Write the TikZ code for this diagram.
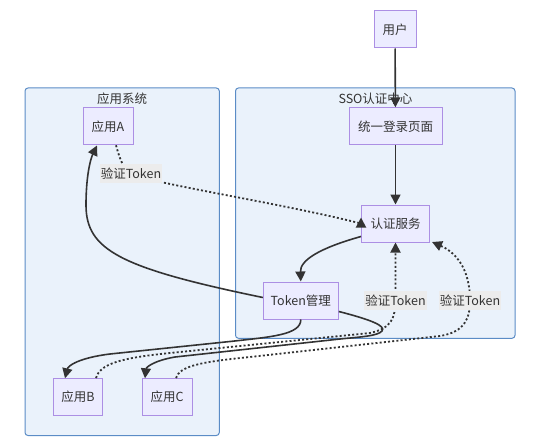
\documentclass[tikz,border=0pt]{standalone}
\usepackage{fontspec}
\setmainfont{Noto Sans CJK SC}
\usetikzlibrary{arrows.meta}
\definecolor{nodefill}{HTML}{ECECFF}
\definecolor{nodeline}{HTML}{AC8FE4}
\definecolor{clfill}{HTML}{EAF2FB}
\definecolor{clline}{HTML}{5B8CC6}
\definecolor{edge}{HTML}{333333}
\definecolor{lblfill}{HTML}{ECECEC}
\definecolor{txt}{HTML}{333333}
\tikzset{
  box/.style={draw=nodeline, fill=nodefill, line width=1pt, minimum height=37pt, inner sep=0pt, text=txt, font=\fontsize{12.5}{15}\selectfont},
  cluster/.style={draw=clline, fill=clfill, line width=1pt, rounded corners=3pt},
  ctitle/.style={text=txt, font=\fontsize{12.5}{15}\selectfont, inner sep=0pt},
  solidedge/.style={draw=edge, line width=1.6pt, -{Triangle[length=10pt,width=10pt]}},
  dotedge/.style={draw=edge, line width=1.8pt, dash pattern=on 2pt off 2.2pt, -{Triangle[length=10pt,width=10pt]}},
  lbl/.style={fill=lblfill, text=txt, inner sep=1pt, minimum height=19pt, minimum width=58pt, font=\fontsize{12.5}{15}\selectfont},
}
\begin{document}
\begin{tikzpicture}[x=1pt,y=-1pt]
\useasboundingbox (0,0) rectangle (533,441);
% clusters
\draw[cluster] (25,88) rectangle (219.3,435.5);
\draw[cluster] (235.5,88) rectangle (515,338.3);
\node[ctitle] (t1) at (122,98.5) {应用系统};
\node[ctitle] (t2) at (375.5,98.5) {SSO认证中心};
% nodes
\node[box, minimum width=42pt] (user) at (395,29.5) {用户};
\node[box, minimum width=93pt] (login) at (395.5,126.3) {统一登录页面};
\node[box, minimum width=68pt] (auth) at (395.5,223.5) {认证服务};
\node[box, minimum width=75pt] (tm) at (300.8,300.5) {Token管理};
\node[box, minimum width=50pt] (appA) at (108,126.3) {应用A};
\node[box, minimum width=49pt] (appB) at (78,397) {应用B};
\node[box, minimum width=50pt] (appC) at (167,397) {应用C};
% solid edges
\draw[solidedge] (user) -- (login);
\draw[solidedge] (login) -- (auth);
\draw[solidedge] (auth.south west) ++(0,-6) .. controls (320,248) and (300,260) .. (tm.north);
\draw[solidedge] (tm.west) ++(0,-3) .. controls (120,268) and (86,250) .. (86,205)
   .. controls (86,178) and (90,160) .. (97,145.5);
\draw[solidedge] (tm.south) .. controls (301,335) and (270,337) .. (230,341.5)
   -- (110,354) .. controls (78,358) and (68,366) .. (65,378.3);
\draw[solidedge] (tm.east) ++(0,11) .. controls (372,320) and (386,326) .. (382,331)
   .. controls (378,336) and (360,337) .. (340,339) -- (175,357)
   .. controls (152,361) and (146,368) .. (145,378.3);
% dotted edges
\draw[dotedge] (appA.south) ++(8,0) .. controls (120,160) and (124,170) .. (131,174)
   node[lbl] (l1) {验证Token}
   .. controls (160,185) and (280,203) .. (auth.west) ++(0,-6);
\draw[dotedge] (appB.north) ++(18,0) .. controls (100,364) and (120,358) .. (170,353)
   -- (370,333) .. controls (392,328) and (395,318) .. (395.5,300.5)
   node[lbl] (l2) {验证Token} -- (auth.south);
\draw[dotedge] (appC.north) ++(9,0) .. controls (180,366) and (200,362) .. (250,357)
   -- (440,336) .. controls (465,332) and (470,318) .. (470,300.5)
   node[lbl] (l3) {验证Token}
   .. controls (470,268) and (455,252) .. (432,242);
\end{tikzpicture}
\end{document}
